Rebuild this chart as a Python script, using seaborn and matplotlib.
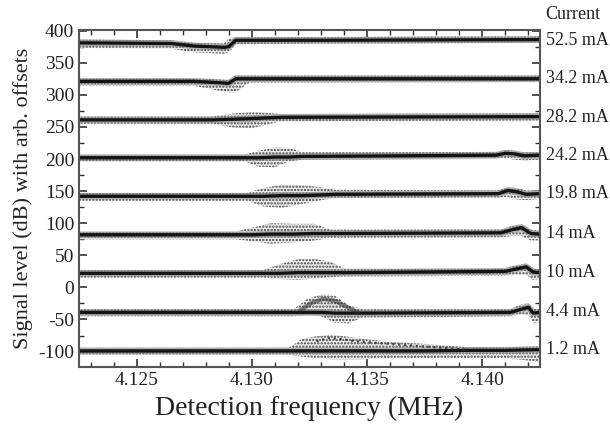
import numpy as np
import pandas as pd
import matplotlib
matplotlib.use("Agg")
import matplotlib.pyplot as plt
from matplotlib.ticker import MultipleLocator, FormatStrFormatter
import seaborn as sns

# ---------------- data ----------------
currents = ["52.5 mA", "34.2 mA", "28.2 mA", "24.2 mA", "19.8 mA",
            "14 mA", "10 mA", "4.4 mA", "1.2 mA"]

f52 = [4.1225, 4.1265, 4.1275, 4.1288, 4.1290, 4.1293, 4.1330, 4.1425]
c52 = [381, 380, 376, 374, 375, 385, 385, 386]
lo52 = [373, 372, 366, 364, 366, 379, 380, 381]
hi52 = [386, 385, 381, 380, 388, 390, 390, 391]

f34 = [4.1225, 4.1275, 4.1285, 4.1290, 4.1293, 4.1299, 4.1425]
c34 = [321, 321, 319, 318, 325, 325, 325]
lo34 = [314, 314, 307, 304, 304, 319, 320]
hi34 = [326, 326, 324, 323, 330, 330, 330]

f28 = [4.1225, 4.1283, 4.1292, 4.1300, 4.1306, 4.1313, 4.1425]
c28 = [261, 261, 262, 263, 264, 265, 266]
lo28 = [255, 255, 249, 248, 253, 259, 260]
hi28 = [266, 266, 271, 273, 272, 270, 271]

f24 = [4.1225, 4.1297, 4.1303, 4.1310, 4.1316, 4.1322, 4.1406, 4.1410, 4.1414, 4.1418, 4.1425]
c24 = [202, 202, 202, 203, 203, 204, 206, 209, 208, 205, 206]
lo24 = [196, 196, 188, 187, 196, 199, 200, 201, 199, 198, 199]
hi24 = [207, 207, 213, 218, 217, 211, 211, 214, 213, 211, 211]

f19 = [4.1225, 4.1298, 4.1305, 4.1313, 4.1322, 4.1330, 4.1336, 4.1407, 4.1411, 4.1415, 4.1419, 4.1425]
c19 = [142, 142, 142, 143, 143, 144, 145, 146, 151, 149, 145, 146]
lo19 = [135, 135, 126, 124, 130, 136, 139, 140, 141, 137, 136, 138]
hi19 = [147, 147, 155, 160, 159, 156, 152, 151, 156, 155, 151, 151]

f14 = [4.1225, 4.1293, 4.1300, 4.1308, 4.1318, 4.1327, 4.1334, 4.1408, 4.1413, 4.1417, 4.1421, 4.1425]
c14 = [82, 82, 82, 83, 83, 84, 84, 85, 90, 93, 84, 83]
lo14 = [75, 75, 72, 68, 70, 73, 77, 78, 80, 80, 73, 74]
hi14 = [87, 87, 93, 100, 99, 99, 90, 90, 96, 99, 90, 88]

f10 = [4.1225, 4.1305, 4.1312, 4.1320, 4.1328, 4.1334, 4.1340, 4.1410, 4.1415, 4.1419, 4.1422, 4.1425]
c10 = [22, 22, 22, 23, 23, 23, 23, 25, 29, 32, 24, 23]
lo10 = [15, 15, 13, 12, 14, 16, 17, 18, 20, 20, 12, 13]
hi10 = [27, 27, 36, 44, 44, 40, 30, 30, 35, 37, 30, 28]

f4 = [4.1225, 4.1318, 4.1324, 4.1330, 4.1336, 4.1342, 4.1348, 4.1412, 4.1417, 4.1420, 4.1422, 4.1425]
c4 = [-39, -39, -39, -39, -40, -40, -40, -39, -34, -31, -40, -39]
lo4 = [-45, -45, -43, -45, -55, -56, -47, -45, -42, -43, -55, -54]
hi4 = [-34, -34, -18, -11, -13, -28, -34, -34, -26, -25, -33, -34]

f1 = [4.1225, 4.1316, 4.1322, 4.1328, 4.1334, 4.1340, 4.1348, 4.1360, 4.1375, 4.1393, 4.1410, 4.1425]
c1 = [-99, -99, -99, -99, -99, -99, -99, -99, -99, -98, -98, -97]
lo1 = [-105, -105, -108, -110, -112, -112, -112, -110, -110, -110, -110, -116]
hi1 = [-94, -94, -80, -76, -74, -76, -80, -85, -88, -93, -93, -92]

# secondary branches (arches) inside the resonance regions
bf4 = [4.1321, 4.1326, 4.1331, 4.1336, 4.1341, 4.1346]
by4 = [-36, -24, -18, -21, -30, -39]
bf1 = [4.1328, 4.1333, 4.1338, 4.1345, 4.1360, 4.1375, 4.1393]
by1 = [-84, -79, -80, -84, -88, -92, -97]

label_levels = [385, 325, 265, 205, 146, 84, 23, -38, -97]

x_ticks = [4.125, 4.130, 4.135, 4.140]
y_ticks = [-100, -50, 0, 50, 100, 150, 200, 250, 300, 350, 400]

traces = [(f52, c52, lo52, hi52), (f34, c34, lo34, hi34), (f28, c28, lo28, hi28),
          (f24, c24, lo24, hi24), (f19, c19, lo19, hi19), (f14, c14, lo14, hi14),
          (f10, c10, lo10, hi10), (f4, c4, lo4, hi4), (f1, c1, lo1, hi1)]

rows = []
for name, (f, c, lo, hi) in zip(currents, traces):
    for xi, yi in zip(f, c):
        rows.append({"freq": xi, "level": yi, "current": name})
df = pd.DataFrame(rows)

# ---------------- style ----------------
sns.set_theme(style="ticks")
plt.rcParams["font.family"] = ["Liberation Serif", "DejaVu Serif"]
plt.rcParams["axes.unicode_minus"] = False
plt.rcParams["hatch.linewidth"] = 1.1

fig = plt.figure(figsize=(6.10, 4.28), dpi=100)
ax = fig.add_axes([79 / 610, 1 - 367 / 428, (540 - 79) / 610, (367 - 30) / 428])

# scattered envelopes as stippled texture
for f, c, lo, hi in traces:
    ax.fill_between(f, lo, hi, facecolor="#ececec", edgecolor="#444444",
                    hatch=".....", linewidth=0)

# fuzzy halo + dense core of every trace
sns.lineplot(data=df, x="freq", y="level", units="current", estimator=None,
             color="#8a8a8a", linewidth=4.8, alpha=0.6, ax=ax, legend=False)
sns.lineplot(data=df, x="freq", y="level", units="current", estimator=None,
             color="#141414", linewidth=2.4, ax=ax, legend=False)

# resonance branches
sns.lineplot(x=bf4, y=by4, color="#2a2a2a", linewidth=3.0, alpha=0.55, ax=ax)
sns.lineplot(x=bf1, y=by1, color="#2a2a2a", linewidth=1.6, alpha=0.8,
             linestyle=":", ax=ax)

ax.set_xlim(4.1225, 4.1425)
ax.set_ylim(-124, 401)
ax.set_xticks(x_ticks)
ax.set_yticks(y_ticks)
ax.xaxis.set_major_formatter(FormatStrFormatter("%.3f"))
ax.xaxis.set_minor_locator(MultipleLocator(0.001))
ax.yaxis.set_minor_locator(MultipleLocator(25))
ax.tick_params(which="both", direction="in", top=True, right=True,
               colors="#333333", labelcolor="#222222", labelsize=14)
ax.tick_params(which="major", length=6, width=1.2)
ax.tick_params(which="minor", length=3.5, width=1.0)
for s in ax.spines.values():
    s.set_color("#555555")
    s.set_linewidth(1.5)

ax.set_xlabel("Detection frequency (MHz)", fontsize=20, color="#222222", labelpad=5)
ax.set_ylabel("Signal level (dB) with arb. offsets", fontsize=16, color="#222222", labelpad=4)

trans = ax.get_yaxis_transform()
for name, lvl in zip(currents, label_levels):
    ax.text(1.012, lvl, name, transform=trans, ha="left", va="center",
            fontsize=13, color="#222222")
ax.text(1.012, 1.045, "Current", transform=ax.transAxes, ha="left", va="center",
        fontsize=13, color="#222222")

fig.savefig("out.png", dpi=100)
